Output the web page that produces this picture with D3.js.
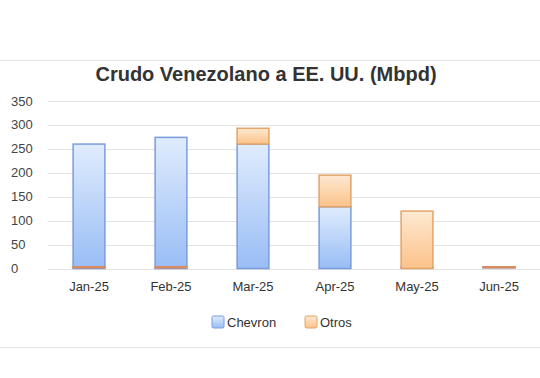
<!DOCTYPE html>
<html>
<head>
<meta charset="utf-8">
<script src="https://cdn.jsdelivr.net/npm/d3@7"></script>
<style>
  body { margin: 0; background: #fff; }
  svg { display: block; font-family: "Liberation Sans", Arial, sans-serif; }
</style>
</head>
<body>
<svg id="chart" width="540" height="378"></svg>
<script>
// values (Mbpd)
const months = ['Jan-25', 'Feb-25', 'Mar-25', 'Apr-25', 'May-25', 'Jun-25'];
const chevron = [260, 274, 260, 129, 0, 0];
const otros = [0, 0, 33, 66, 120, 0];
const yTicks = [0, 50, 100, 150, 200, 250, 300, 350];
const seriesNames = ['Chevron', 'Otros'];

const W = 540, H = 378;
const margin = { top: 101, right: 0, bottom: 110, left: 48 };
const svg = d3.select('#chart');

const rows = months.map((m, i) => ({ month: m, Chevron: chevron[i], Otros: otros[i] }));
// diverging offset puts zero values on the baseline, as in the source
const stacked = d3.stack().keys(seriesNames).offset(d3.stackOffsetDiverging)(rows);

const x = d3.scaleBand().domain(months).range([margin.left, W - margin.right]).paddingInner(0.6).paddingOuter(0.3);
const y = d3.scaleLinear().domain([0, 350]).range([H - margin.bottom + 0.5, margin.top]);

const defs = svg.append('defs');
const styles = {
  Chevron: { top: '#e0ecfd', bottom: '#98bdf5', stroke: '#7b9cdc', base: '#7b9cdc' },
  Otros: { top: '#fde9d2', bottom: '#fcc28a', stroke: '#e2a468', base: '#d98c60' }
};
seriesNames.forEach(k => {
  const g = defs.append('linearGradient').attr('id', 'g' + k)
    .attr('x1', 0).attr('y1', 0).attr('x2', 0).attr('y2', 1);
  g.append('stop').attr('offset', '0%').attr('stop-color', styles[k].top);
  g.append('stop').attr('offset', '100%').attr('stop-color', styles[k].bottom);
});

// frame lines
svg.append('line').attr('x1', 0).attr('x2', W).attr('y1', 60.5).attr('y2', 60.5).attr('stroke', '#e6e6e6');
svg.append('line').attr('x1', 0).attr('x2', W).attr('y1', 347.5).attr('y2', 347.5).attr('stroke', '#e6e6e6');

svg.append('text')
  .attr('x', 266).attr('y', 81)
  .attr('text-anchor', 'middle')
  .attr('font-size', 20).attr('font-weight', 'bold').attr('fill', '#333')
  .text('Crudo Venezolano a EE. UU. (Mbpd)');

// grid
svg.append('g').selectAll('line').data(yTicks).join('line')
  .attr('x1', margin.left).attr('x2', W)
  .attr('y1', d => Math.round(y(d)) + 0.5).attr('y2', d => Math.round(y(d)) + 0.5)
  .attr('stroke', '#e3e3e3');

svg.append('g').selectAll('text').data(yTicks).join('text')
  .attr('x', 11).attr('y', d => y(d) + 4.5)
  .attr('font-size', 13).attr('fill', '#444')
  .text(d => d);

// bars; zero values keep a thin sliver on the baseline
stacked.forEach(s => {
  const st = styles[s.key];
  svg.append('g').selectAll('rect').data(s).join('rect')
    .attr('x', d => x(d.data.month) + ((d[1] - d[0]) === 0 ? -0.25 : 0.5))
    .attr('width', d => x.bandwidth() - ((d[1] - d[0]) === 0 ? -0.5 : 1))
    .attr('y', d => (d[1] - d[0]) === 0 ? y(0) - 2.5 : y(d[1]))
    .attr('height', d => (d[1] - d[0]) === 0 ? 2.5 : y(d[0]) - y(d[1]))
    .attr('fill', d => (d[1] - d[0]) === 0 ? st.base : 'url(#g' + s.key + ')')
    .attr('stroke', d => (d[1] - d[0]) === 0 ? 'none' : st.stroke)
    .attr('stroke-width', 1.5);
});

svg.append('g').selectAll('text').data(months).join('text')
  .attr('x', d => x(d) + x.bandwidth() / 2).attr('y', 291)
  .attr('text-anchor', 'middle')
  .attr('font-size', 13).attr('fill', '#333')
  .text(d => d);

// legend
const legendX = [212, 305];
const legend = svg.append('g').selectAll('g').data(seriesNames).join('g')
  .attr('transform', (d, i) => 'translate(' + legendX[i] + ',316)');
legend.append('rect').attr('width', 12).attr('height', 12).attr('rx', 1.5)
  .attr('fill', d => 'url(#g' + d + ')').attr('stroke', d => styles[d].stroke);
legend.append('text').attr('x', 15).attr('y', 11)
  .attr('font-size', 13).attr('fill', '#333')
  .text(d => d);
</script>
</body>
</html>
